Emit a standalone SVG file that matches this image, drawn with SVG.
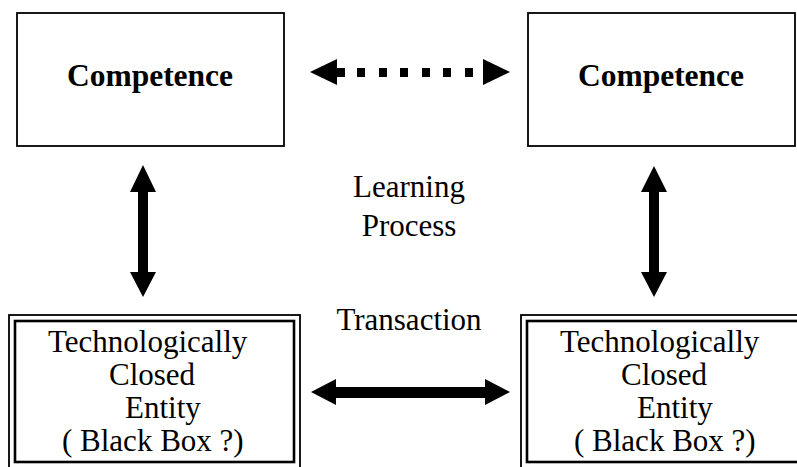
<svg xmlns="http://www.w3.org/2000/svg" width="797" height="467" viewBox="0 0 797 467" font-family="'Liberation Serif', serif">
  <style>
    .box { fill: #ffffff; stroke: #000000; stroke-width: 1.8; }
    .outer { fill: none; stroke: #000000; stroke-width: 1.8; }
    .inner { fill: none; stroke: #000000; stroke-width: 2.6; }
    .title { font-family: 'Liberation Serif', serif; font-size: 31.5px; font-weight: bold; fill: #000; }
    .txt { font-family: 'Liberation Serif', serif; font-size: 31px; fill: #000; }
    .arrow { fill: #000000; stroke: none; }
  </style>
  <rect width="797" height="467" fill="#ffffff"/>

  <g id="competence-left">
    <rect class="box" x="17" y="13" width="267" height="133"/>
    <text class="title" x="150" y="86" text-anchor="middle">Competence</text>
  </g>

  <g id="competence-right">
    <rect class="box" x="528" y="13" width="267" height="133"/>
    <text class="title" x="661" y="86" text-anchor="middle">Competence</text>
  </g>

  <g id="entity-left">
    <rect class="outer" x="9" y="315" width="291" height="156"/>
    <rect class="inner" x="15" y="321" width="279" height="141"/>
    <text class="txt" x="48" y="352">Technologically</text>
    <text class="txt" x="109" y="385">Closed</text>
    <text class="txt" x="125" y="418">Entity</text>
    <text class="txt" x="62" y="451">( Black Box ?)</text>
  </g>

  <g id="entity-right">
    <rect class="outer" x="521" y="315" width="291" height="156"/>
    <rect class="inner" x="527" y="321" width="279" height="141"/>
    <text class="txt" x="560" y="352">Technologically</text>
    <text class="txt" x="621" y="385">Closed</text>
    <text class="txt" x="637" y="418">Entity</text>
    <text class="txt" x="574" y="451">( Black Box ?)</text>
  </g>

  <g id="connectors">
    <g id="dotted-arrow">
      <polygon class="arrow" points="310,72 337,59 337,85"/>
      <rect class="arrow" x="336" y="68" width="9" height="9"/>
      <rect class="arrow" x="357" y="68" width="8" height="9"/>
      <rect class="arrow" x="379" y="68" width="8" height="9"/>
      <rect class="arrow" x="400" y="68" width="8" height="9"/>
      <rect class="arrow" x="422" y="68" width="8" height="9"/>
      <rect class="arrow" x="443" y="68" width="8" height="9"/>
      <rect class="arrow" x="465" y="68" width="8" height="9"/>
      <polygon class="arrow" points="483,59 510,72 483,85"/>
    </g>
    <polygon class="arrow" points="143,165 156,192 148,192 148,272 156,272 143,297 130,272 138,272 138,192 130,192"/>
    <polygon class="arrow" points="654,166 667,192 659,192 659,272 667,272 654,297 641,272 649,272 649,192 641,192"/>
    <polygon class="arrow" points="311,392 336,379 336,387 485,387 485,379 510,392 485,405 485,398 336,398 336,405"/>

    <text class="txt" x="409" y="197" text-anchor="middle">Learning</text>
    <text class="txt" x="409" y="236" text-anchor="middle">Process</text>
    <text class="txt" x="409" y="330" text-anchor="middle">Transaction</text>
  </g>
</svg>
